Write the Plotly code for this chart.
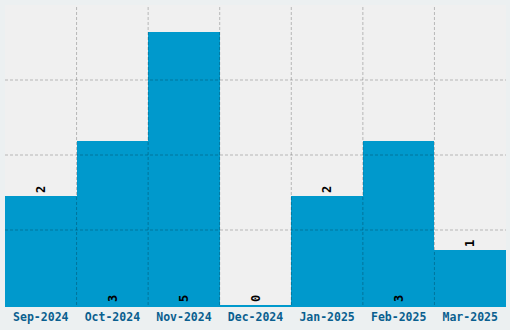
import plotly.graph_objects as go

months = ["Sep-2024", "Oct-2024", "Nov-2024", "Dec-2024", "Jan-2025", "Feb-2025", "Mar-2025"]
counts = [2, 3, 5, 0, 2, 3, 1]
label_pos = ["outside", "inside", "inside", "outside", "outside", "inside", "outside"]
y_max = 5.5
grid_vals = [1.375, 2.75, 4.125]

BAR = "#0099cc"
GRID = "rgba(0,0,0,0.24)"

fig = go.Figure(go.Bar(
    x=months, y=counts, width=1,
    marker=dict(color=BAR, line=dict(width=0)),
    text=[str(c) for c in counts],
    textposition=label_pos,
    insidetextanchor="start",
    textangle=-90,
    textfont=dict(family="DejaVu Sans Mono", size=12, color="#000000", weight="bold"),
    cliponaxis=False,
))

shapes = []
for v in grid_vals:
    shapes.append(dict(type="line", xref="x domain", yref="y", x0=0, x1=1, y0=v, y1=v,
                       line=dict(color=GRID, width=1, dash="3px,2px"), layer="above"))
for i in range(len(months) - 1):
    shapes.append(dict(type="line", xref="x", yref="y domain", x0=i + 0.5, x1=i + 0.5, y0=0, y1=1,
                       line=dict(color=GRID, width=1, dash="3px,2px"), layer="above"))

fig.update_layout(
    width=510, height=330,
    margin=dict(l=5, r=4, t=5, b=25),
    paper_bgcolor="#ecf0f1",
    plot_bgcolor="#f0f0f0",
    showlegend=False,
    bargap=0,
    shapes=shapes,
    xaxis=dict(showgrid=False, showline=True, linecolor=BAR, linewidth=2,
               tickfont=dict(family="DejaVu Sans Mono", size=11.5, color="#0a5f8f", weight="bold"),
               ticks="", range=[-0.5, len(months) - 0.5]),
    yaxis=dict(range=[0, y_max], showgrid=False, showticklabels=False, zeroline=False, ticks=""),
    uniformtext=dict(minsize=8, mode="show"),
)

fig.write_html("out.html")
